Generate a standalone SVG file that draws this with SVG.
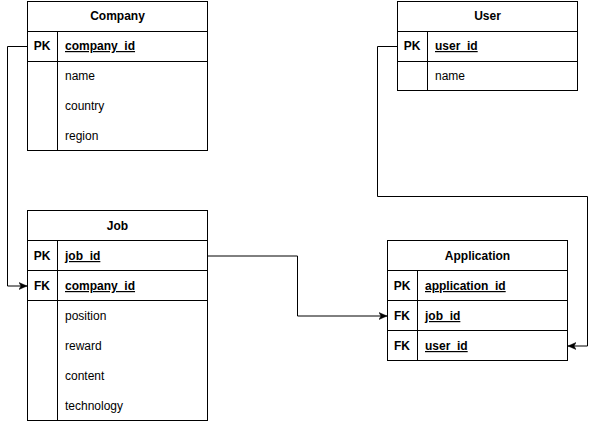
<svg xmlns="http://www.w3.org/2000/svg" width="596" height="421" viewBox="0 0 596 421">
<style>
.box{fill:#fff;stroke:#000;stroke-width:1}
.ln{fill:none;stroke:#000;stroke-width:1}
.t{font-family:"Liberation Sans",Arial,sans-serif;font-size:12px;fill:#000}
.h{font-weight:bold;text-anchor:middle}
.k{font-weight:bold;text-anchor:middle}
.u{font-weight:bold;text-decoration:underline}
.c{fill:none;stroke:#000;stroke-width:1}
</style>
<defs>
<marker id="arr" markerWidth="10" markerHeight="10" refX="8" refY="4" orient="auto" markerUnits="userSpaceOnUse">
<path d="M0,0.5 L8,4 L0,7.5 L2,4 Z" fill="#000" stroke="#000" stroke-width="0.5"/>
</marker>
</defs>
<rect width="596" height="421" fill="#fff"/>

<g id="company">
<rect class="box" x="27.5" y="1.5" width="180" height="149"/>
<line class="ln" x1="27.5" y1="31.5" x2="207.5" y2="31.5"/>
<line class="ln" x1="27.5" y1="61.5" x2="207.5" y2="61.5"/>
<line class="ln" x1="57.5" y1="31.5" x2="57.5" y2="150.5"/>
<text class="t h" x="117.5" y="20">Company</text>
<text class="t k" x="42" y="50">PK</text>
<text class="t u" x="65" y="50">company_id</text>
<text class="t" x="65" y="80">name</text>
<text class="t" x="65" y="110">country</text>
<text class="t" x="65" y="140">region</text>
</g>

<g id="user">
<rect class="box" x="397.5" y="1.5" width="180" height="89"/>
<line class="ln" x1="397.5" y1="31.5" x2="577.5" y2="31.5"/>
<line class="ln" x1="397.5" y1="61.5" x2="577.5" y2="61.5"/>
<line class="ln" x1="427.5" y1="31.5" x2="427.5" y2="90.5"/>
<text class="t h" x="487.5" y="20">User</text>
<text class="t k" x="412" y="50">PK</text>
<text class="t u" x="435" y="50">user_id</text>
<text class="t" x="435" y="80">name</text>
</g>

<g id="job">
<rect class="box" x="27.5" y="210.5" width="180" height="210"/>
<line class="ln" x1="27.5" y1="240.5" x2="207.5" y2="240.5"/>
<line class="ln" x1="27.5" y1="270.5" x2="207.5" y2="270.5"/>
<line class="ln" x1="27.5" y1="300.5" x2="207.5" y2="300.5"/>
<line class="ln" x1="57.5" y1="240.5" x2="57.5" y2="420.5"/>
<text class="t h" x="117.5" y="230">Job</text>
<text class="t k" x="42" y="260">PK</text>
<text class="t u" x="65" y="260">job_id</text>
<text class="t k" x="42" y="290">FK</text>
<text class="t u" x="65" y="290">company_id</text>
<text class="t" x="65" y="320">position</text>
<text class="t" x="65" y="350">reward</text>
<text class="t" x="65" y="380">content</text>
<text class="t" x="65" y="410">technology</text>
</g>

<g id="application">
<rect class="box" x="387.5" y="240.5" width="180" height="120"/>
<line class="ln" x1="387.5" y1="270.5" x2="567.5" y2="270.5"/>
<line class="ln" x1="387.5" y1="300.5" x2="567.5" y2="300.5"/>
<line class="ln" x1="387.5" y1="330.5" x2="567.5" y2="330.5"/>
<line class="ln" x1="417.5" y1="270.5" x2="417.5" y2="360.5"/>
<text class="t h" x="477.5" y="260">Application</text>
<text class="t k" x="402" y="290">PK</text>
<text class="t u" x="425" y="290">application_id</text>
<text class="t k" x="402" y="320">FK</text>
<text class="t u" x="425" y="320">job_id</text>
<text class="t k" x="402" y="350">FK</text>
<text class="t u" x="425" y="350">user_id</text>
</g>

<g id="connectors">
<path class="c" d="M27.5,46.5 H7.5 V286 H27" marker-end="url(#arr)"/>
<path class="c" d="M207.5,256 H297.5 V316 H387" marker-end="url(#arr)"/>
<path class="c" d="M397.5,46.5 H377.5 V196.5 H587.5 V346 H568" marker-end="url(#arr)"/>
</g>
</svg>
